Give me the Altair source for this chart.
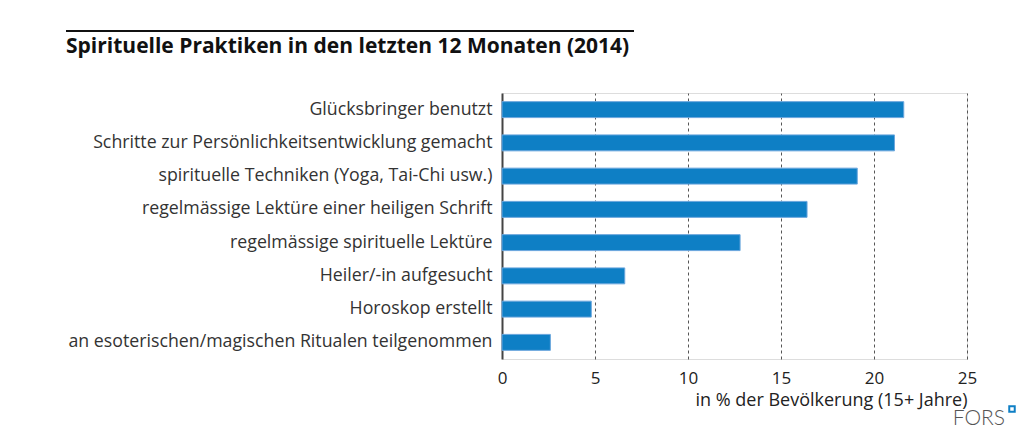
import altair as alt
import pandas as pd

categories = [
    "Glücksbringer benutzt",
    "Schritte zur Persönlichkeitsentwicklung gemacht",
    "spirituelle Techniken (Yoga, Tai-Chi usw.)",
    "regelmässige Lektüre einer heiligen Schrift",
    "regelmässige spirituelle Lektüre",
    "Heiler/-in aufgesucht",
    "Horoskop erstellt",
    "an esoterischen/magischen Ritualen teilgenommen",
]
values = [21.6, 21.1, 19.1, 16.4, 12.8, 6.6, 4.8, 2.6]
x_ticks = [0, 5, 10, 15, 20, 25]

title_text = "Spirituelle Praktiken in den letzten 12 Monaten (2014)"
x_title = "in % der Bevölkerung (15+ Jahre)"
FONT = "Open Sans"

df = pd.DataFrame({"cat": categories, "val": values})

W, H = 465, 266
OX, OY = 502, 93  # plot origin in page coords

bars = alt.Chart(df).mark_bar(
    color="#0e7fc5", stroke="#6aa6dd", strokeWidth=1
).encode(
    x=alt.X(
        "val:Q",
        scale=alt.Scale(domain=[0, 25], nice=False),
        axis=alt.Axis(
            values=x_ticks,
            title=x_title,
            titleAnchor="end",
            titleAlign="right",
            titleFont=FONT,
            titleFontSize=18,
            titleFontWeight="normal",
            titleColor="#222222",
            titlePadding=5,
            labelFont=FONT,
            labelFontSize=17,
            labelColor="#222222",
            labelPadding=11,
            labelFlush=False,
            domain=False,
            ticks=False,
            grid=True,
            gridDash=[3, 3],
            gridColor="#555555",
            gridWidth=1,
            gridOpacity=alt.ExprRef("datum.value == 0 ? 0 : 1"),
        ),
    ),
    y=alt.Y(
        "cat:N",
        sort=categories,
        scale=alt.Scale(paddingInner=0.52, paddingOuter=0.26),
        axis=alt.Axis(
            title=None,
            labelFont=FONT,
            labelFontSize=17.75,
            labelColor="#333333",
            labelPadding=10,
            ticks=False,
            grid=False,
            domain=True,
            domainColor="#444444",
            domainWidth=2,
            labelLimit=600,
        ),
    ),
)

deco = pd.DataFrame({"t": [title_text]})

title_mark = alt.Chart(deco).mark_text(
    font=FONT, fontSize=21, fontWeight="bold", align="left",
    baseline="alphabetic", color="#111111",
).encode(x=alt.value(66 - OX), y=alt.value(53 - OY), text="t:N")

title_rule = alt.Chart(deco).mark_rule(color="#111111", strokeWidth=2).encode(
    x=alt.value(66 - OX), x2=alt.value(634 - OX), y=alt.value(31 - OY)
)

fors = alt.Chart(pd.DataFrame({"t": ["FORS"]})).mark_text(
    font="Lato", fontSize=21, fontWeight=300, align="right",
    baseline="alphabetic", color="#555555",
).encode(x=alt.value(1005 - OX), y=alt.value(425 - OY), text="t:N")

logo = alt.Chart(pd.DataFrame({"t": ["x"]})).mark_square(
    size=30, fill="white", stroke="#0e7fc5", strokeWidth=2, opacity=1
).encode(x=alt.value(1012 - OX), y=alt.value(409 - OY))

chart = alt.layer(bars, title_rule, title_mark, fors, logo).properties(
    width=W, height=H,
    autosize=alt.AutoSizeParams(type="none"),
    padding={"left": OX - 8, "top": OY - 8, "right": 1019 - (OX - 8) - W, "bottom": 424 - (OY - 8) - H},
).configure_view(stroke=None).configure(background="white")

chart.save("out.html", embed_options={"renderer": "svg", "actions": False})
